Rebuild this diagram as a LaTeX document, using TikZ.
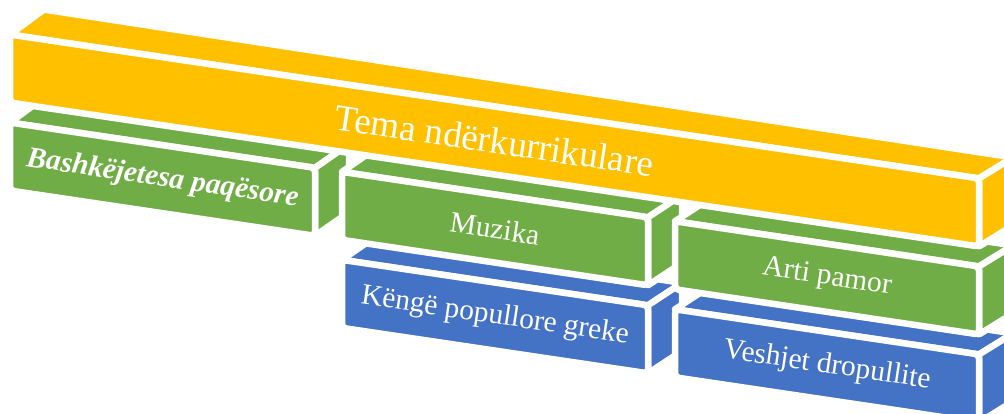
\documentclass[tikz,border=0pt]{standalone}
\usepackage{fontspec}
\setmainfont{Liberation Serif}
\usetikzlibrary{calc}
\definecolor{cyel}{HTML}{FFC000}
\definecolor{cgrn}{HTML}{70AD47}
\definecolor{cblu}{HTML}{4472C4}
\tikzset{
  face/.style={draw=white, line width=6.5pt, line join=round},
  frontface/.style={face, rounded corners=4pt},
  lbl/.style={text=white, rotate=-8.45, inner sep=0pt},
  small/.style={font=\fontsize{29.5}{35}\selectfont},
  big/.style={font=\fontsize{37}{44}\selectfont}
}
% #1 name, #2 colour, #3 left x, #4 top y, #5 width, #6 depth dy left, #7 depth dy right, #8 label style, #9 text
\newcommand{\blk}[9]{%
  \coordinate (#1-A) at (#3,#4);
  \coordinate (#1-B) at ($(#1-A)+(#5,{#5*0.1485})$);
  \coordinate (#1-C) at ($(#1-B)+(0,68)$);
  \coordinate (#1-D) at ($(#1-A)+(0,68)$);
  \path[face, fill=#2] (#1-A) -- (#1-B) -- ++(34,#7) -- ($(#1-A)+(34,#6)$) -- cycle;
  \path[face, fill=#2] (#1-B) -- ++(34,#7) -- ($(#1-C)+(34,#7)$) -- (#1-C) -- cycle;
  \path[frontface, fill=#2] (#1-A) -- (#1-B) -- (#1-C) -- (#1-D) -- cycle;
  \node[lbl, #8] (#1) at ($(#1-A)!0.5!(#1-C)$) {#9};
}
\begin{document}
\begin{tikzpicture}[x=1pt,y=-1pt]
\clip (0,0) rectangle (1004,414);
\fill[white] (0,0) rectangle (1004,414);
\blk{kenge}{cblu}{342}{259.86}{306}{-23.6}{-22.4}{small}{Këngë popullore greke}
\blk{veshje}{cblu}{675}{309.3}{304}{-22.3}{-21}{small}{Veshjet dropullite}
\blk{bashk}{cgrn}{10}{122.55}{305}{-25}{-23.7}{small}{\bfseries\itshape Bashkëjetesa paqësore}
\blk{muzika}{cgrn}{342}{171.86}{306}{-23.6}{-22.4}{small}{Muzika}
\blk{arti}{cgrn}{675}{221.3}{304}{-22.3}{-21}{small}{Arti pamor}
\blk{tema}{cyel}{10}{34.55}{969}{-25}{-21}{big}{Tema ndërkurrikulare}
\end{tikzpicture}
\end{document}
